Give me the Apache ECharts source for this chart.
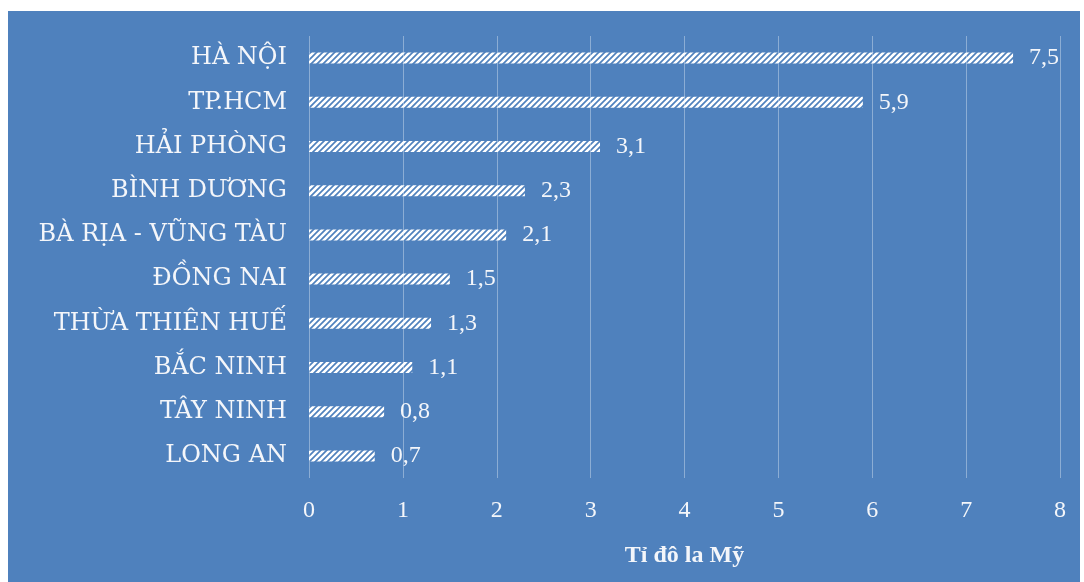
<!DOCTYPE html>
<html>
<head>
<meta charset="utf-8">
<script src="https://cdn.jsdelivr.net/npm/echarts@6/dist/echarts.min.js"></script>
<style>
  html, body { margin: 0; padding: 0; background: #ffffff; }
  #chart { width: 1084px; height: 582px; }
</style>
</head>
<body>
<div id="chart"></div>
<script>
// Provinces ranked by value, top to bottom
const provinces = [
  'HÀ NỘI', 'TP.HCM', 'HẢI PHÒNG', 'BÌNH DƯƠNG', 'BÀ RỊA - VŨNG TÀU',
  'ĐỒNG NAI', 'THỪA THIÊN HUẾ', 'BẮC NINH', 'TÂY NINH', 'LONG AN'
];
const values = [7.5, 5.9, 3.1, 2.3, 2.1, 1.5, 1.3, 1.1, 0.8, 0.7];
const axisTitle = 'Tỉ đô la Mỹ';

// White "////" hatch fill for the bars (seamless tile)
function hatchPattern() {
  const s = 6;
  const c = document.createElement('canvas');
  c.width = s; c.height = s;
  const g = c.getContext('2d');
  g.strokeStyle = '#ffffff';
  g.lineWidth = 2.6;
  g.lineCap = 'square';
  g.beginPath();
  for (const k of [0, s, 2 * s]) {   // lines x + y = k
    g.moveTo(k + s, -s); g.lineTo(k - 2 * s, 2 * s);
  }
  g.stroke();
  return c;
}

const chart = echarts.init(document.getElementById('chart'));
const serif = '"Liberation Serif", serif';
const labelFont = '"DejaVu Serif", serif';
const textColor = '#f4f6fa';
chart.setOption({
  animation: false,
  backgroundColor: 'transparent',
  graphic: [{
    type: 'rect', z: -10, silent: true,
    shape: { x: 8, y: 11, width: 1072, height: 571 },
    style: { fill: '#4f81bd' }
  }],
  grid: { left: 309, right: 24, top: 36, bottom: 104 },
  xAxis: {
    type: 'value', min: 0, max: 8, interval: 1,
    axisLine: { show: false }, axisTick: { show: false },
    splitLine: { lineStyle: { color: 'rgba(255,255,255,0.35)', width: 1 } },
    axisLabel: { color: textColor, fontFamily: serif, fontSize: 24, margin: 21 },
    name: axisTitle, nameLocation: 'middle', nameGap: 66,
    nameTextStyle: { color: textColor, fontFamily: serif, fontSize: 24, fontWeight: 'bold' }
  },
  yAxis: {
    type: 'category', data: provinces, inverse: true,
    axisLine: { show: false }, axisTick: { show: false },
    axisLabel: { color: textColor, fontFamily: labelFont, fontSize: 24, margin: 22 }
  },
  series: [{
    type: 'bar', data: values, barWidth: 11,
    itemStyle: { color: { image: hatchPattern(), repeat: 'repeat' } },
    label: {
      show: true, position: 'right', distance: 16,
      color: textColor, fontFamily: serif, fontSize: 24,
      formatter: p => String(p.value).replace('.', ',')
    }
  }]
});
</script>
</body>
</html>
